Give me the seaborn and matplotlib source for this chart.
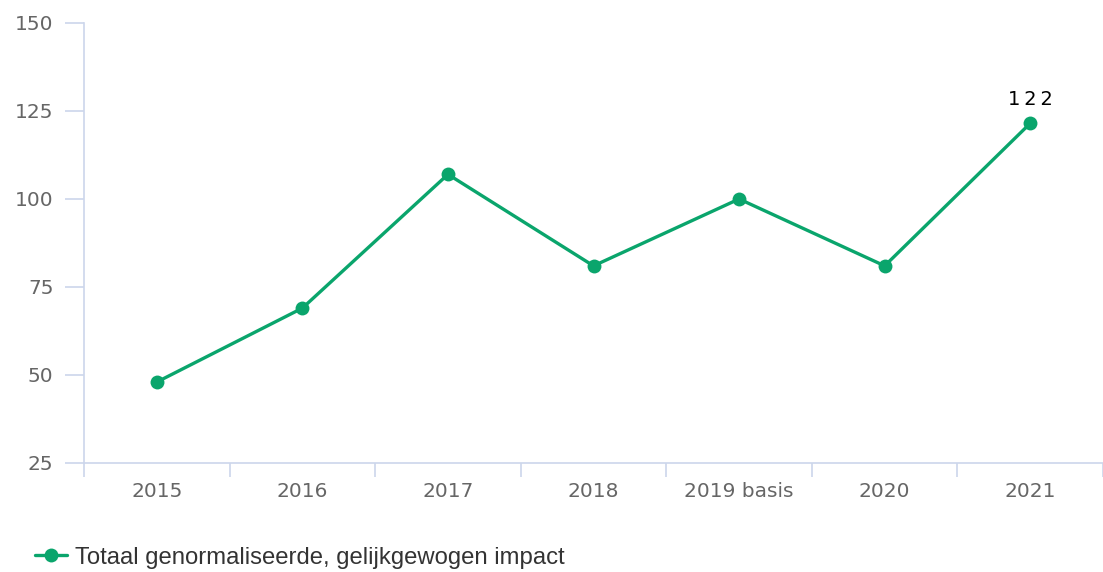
import matplotlib.pyplot as plt
import pandas as pd
import seaborn as sns
from matplotlib.lines import Line2D

# data
years = ["2015", "2016", "2017", "2018", "2019 basis", "2020", "2021"]
impact = [48, 69, 107, 81, 100, 81, 121.5]
series_name = "Totaal genormaliseerde, gelijkgewogen impact"

df = pd.DataFrame({"jaar": years, "impact": impact})
df["pos"] = range(len(years))

sns.set_style("white")
plt.rcParams["font.family"] = ["DejaVu Sans"]

green = "#0aa56c"
axis_col = "#ccd6eb"
label_col = "#666666"

fig = plt.figure(figsize=(11.03, 5.72), dpi=100)
ax = fig.add_axes([0.0762, 0.1906, 0.9238, 0.7692])

sns.lineplot(data=df, x="pos", y="impact", color=green, linewidth=2.4,
             marker="o", markersize=10, markeredgewidth=0, ax=ax, legend=False)

ax.set_xlim(-0.5, len(years) - 0.5)
ax.set_ylim(25, 150)
ax.set_yticks([25, 50, 75, 100, 125, 150])
ax.set_xticks(df["pos"])
ax.set_xticklabels(years)
ax.set_xticks([i - 0.5 for i in range(len(years) + 1)], minor=True)

ax.tick_params(axis="x", which="major", bottom=True, length=0, pad=14,
               labelsize=14.5, labelcolor=label_col)
ax.tick_params(axis="x", which="minor", bottom=True, length=10, width=1.2, color=axis_col)
ax.tick_params(axis="y", which="major", left=True, length=14, width=1.2, color=axis_col,
               pad=8, labelsize=14.5, labelcolor=label_col)

for side in ["top", "right"]:
    ax.spines[side].set_visible(False)
for side in ["left", "bottom"]:
    ax.spines[side].set_color(axis_col)
    ax.spines[side].set_linewidth(1.2)

ax.set_xlabel("")
ax.set_ylabel("")

# label on last point
ax.annotate("1 2 2".replace(" ", "\u2009"), (df["pos"].iloc[-1], impact[-1]), xytext=(0, 10),
            textcoords="offset points", ha="center", va="bottom",
            fontsize=14, color="black")

handle = Line2D([], [], color=green, linewidth=2.4, marker="o", markersize=10,
                markeredgewidth=0)
leg = fig.legend([handle], [series_name], loc="lower left", bbox_to_anchor=(0.012, -0.032),
                 frameon=False, handlelength=1.35, handletextpad=0.35,
                 prop={"family": "Liberation Sans", "size": 17.2})
for t in leg.get_texts():
    t.set_color("#333333")

fig.savefig("out.png", dpi=100)
